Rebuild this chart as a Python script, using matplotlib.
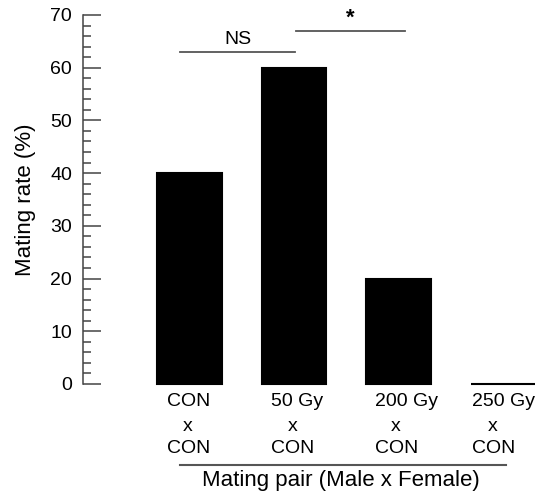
import matplotlib.pyplot as plt
from matplotlib.ticker import MultipleLocator

plt.rcParams['font.family'] = ['Liberation Sans', 'DejaVu Sans']

# mating rate for each male x female pairing
males = ['CON', '50 Gy', '200 Gy', '250 Gy']
females = ['CON', 'CON', 'CON', 'CON']
rates = [40, 60, 20, 0]

# significance brackets: (left bar, right bar, label)
brackets = [(0, 1, 'NS'), (1, 2, '*')]

fig = plt.figure(figsize=(5.49, 4.94), dpi=100)
ax = fig.add_axes([0.1512, 0.2227, 0.8488, 0.7470])

pos = list(range(len(rates)))
bars = ax.bar(pos, rates, width=0.62, color='black', edgecolor='black',
              linewidth=1.5)
for b in bars:
    b.set_clip_on(False)  # keep the zero bar visible as a line

ax.set_xlim(-1.02, 3.44)
ax.set_ylim(0, 70)

for side in ['top', 'right', 'bottom']:
    ax.spines[side].set_visible(False)
ax.spines['left'].set_color('#444444')
ax.spines['left'].set_linewidth(1.1)

ax.yaxis.set_major_locator(MultipleLocator(10))
ax.yaxis.set_minor_locator(MultipleLocator(2))
ax.tick_params(axis='y', which='major', direction='in', length=13, width=1.1,
               color='#444444', labelsize=14, pad=8)
ax.tick_params(axis='y', which='minor', direction='in', length=6, width=1.1,
               color='#444444')
ax.set_xticks([])
ax.set_ylabel('Mating rate (%)', fontsize=16, labelpad=10)

# pair labels under each bar
label_shift = [-0.22, -0.22, -0.23, -0.30]
for i, (m, f) in enumerate(zip(males, females)):
    x0 = i + label_shift[i]
    ax.text(x0, -1.7, m, ha='left', va='top', fontsize=14, clip_on=False)
    ax.text(x0 + 0.205, -6.5, 'x', ha='center', va='top', fontsize=14,
            clip_on=False)
    ax.text(x0, -10.7, f, ha='left', va='top', fontsize=14, clip_on=False)

# group line and axis title
ax.plot([-0.087, 3.03], [-15.4, -15.4], color='#555555', lw=1.5, clip_on=False)
ax.text(1.45, -16.4, 'Mating pair (Male x Female)', ha='center', va='top',
        fontsize=16, clip_on=False)

# significance lines
levels = [63.0, 67.0]
for (a, b, txt), y in zip(brackets, levels):
    xa = a - 0.087 if a == 0 else a + 0.02
    xb = b + 0.006 if b == 1 else b + 0.064
    ax.plot([xa, xb], [y, y], color='#555555', lw=1.3, clip_on=False)
    if txt == 'NS':
        ax.text((xa + xb) / 2, y + 0.7, txt, ha='center', va='bottom',
                fontsize=14, clip_on=False)
    else:
        ax.text((xa + xb) / 2, y + 0.3, txt, ha='center', va='bottom',
                fontsize=16, fontweight='bold', clip_on=False)

fig.savefig('out.png', dpi=100)
